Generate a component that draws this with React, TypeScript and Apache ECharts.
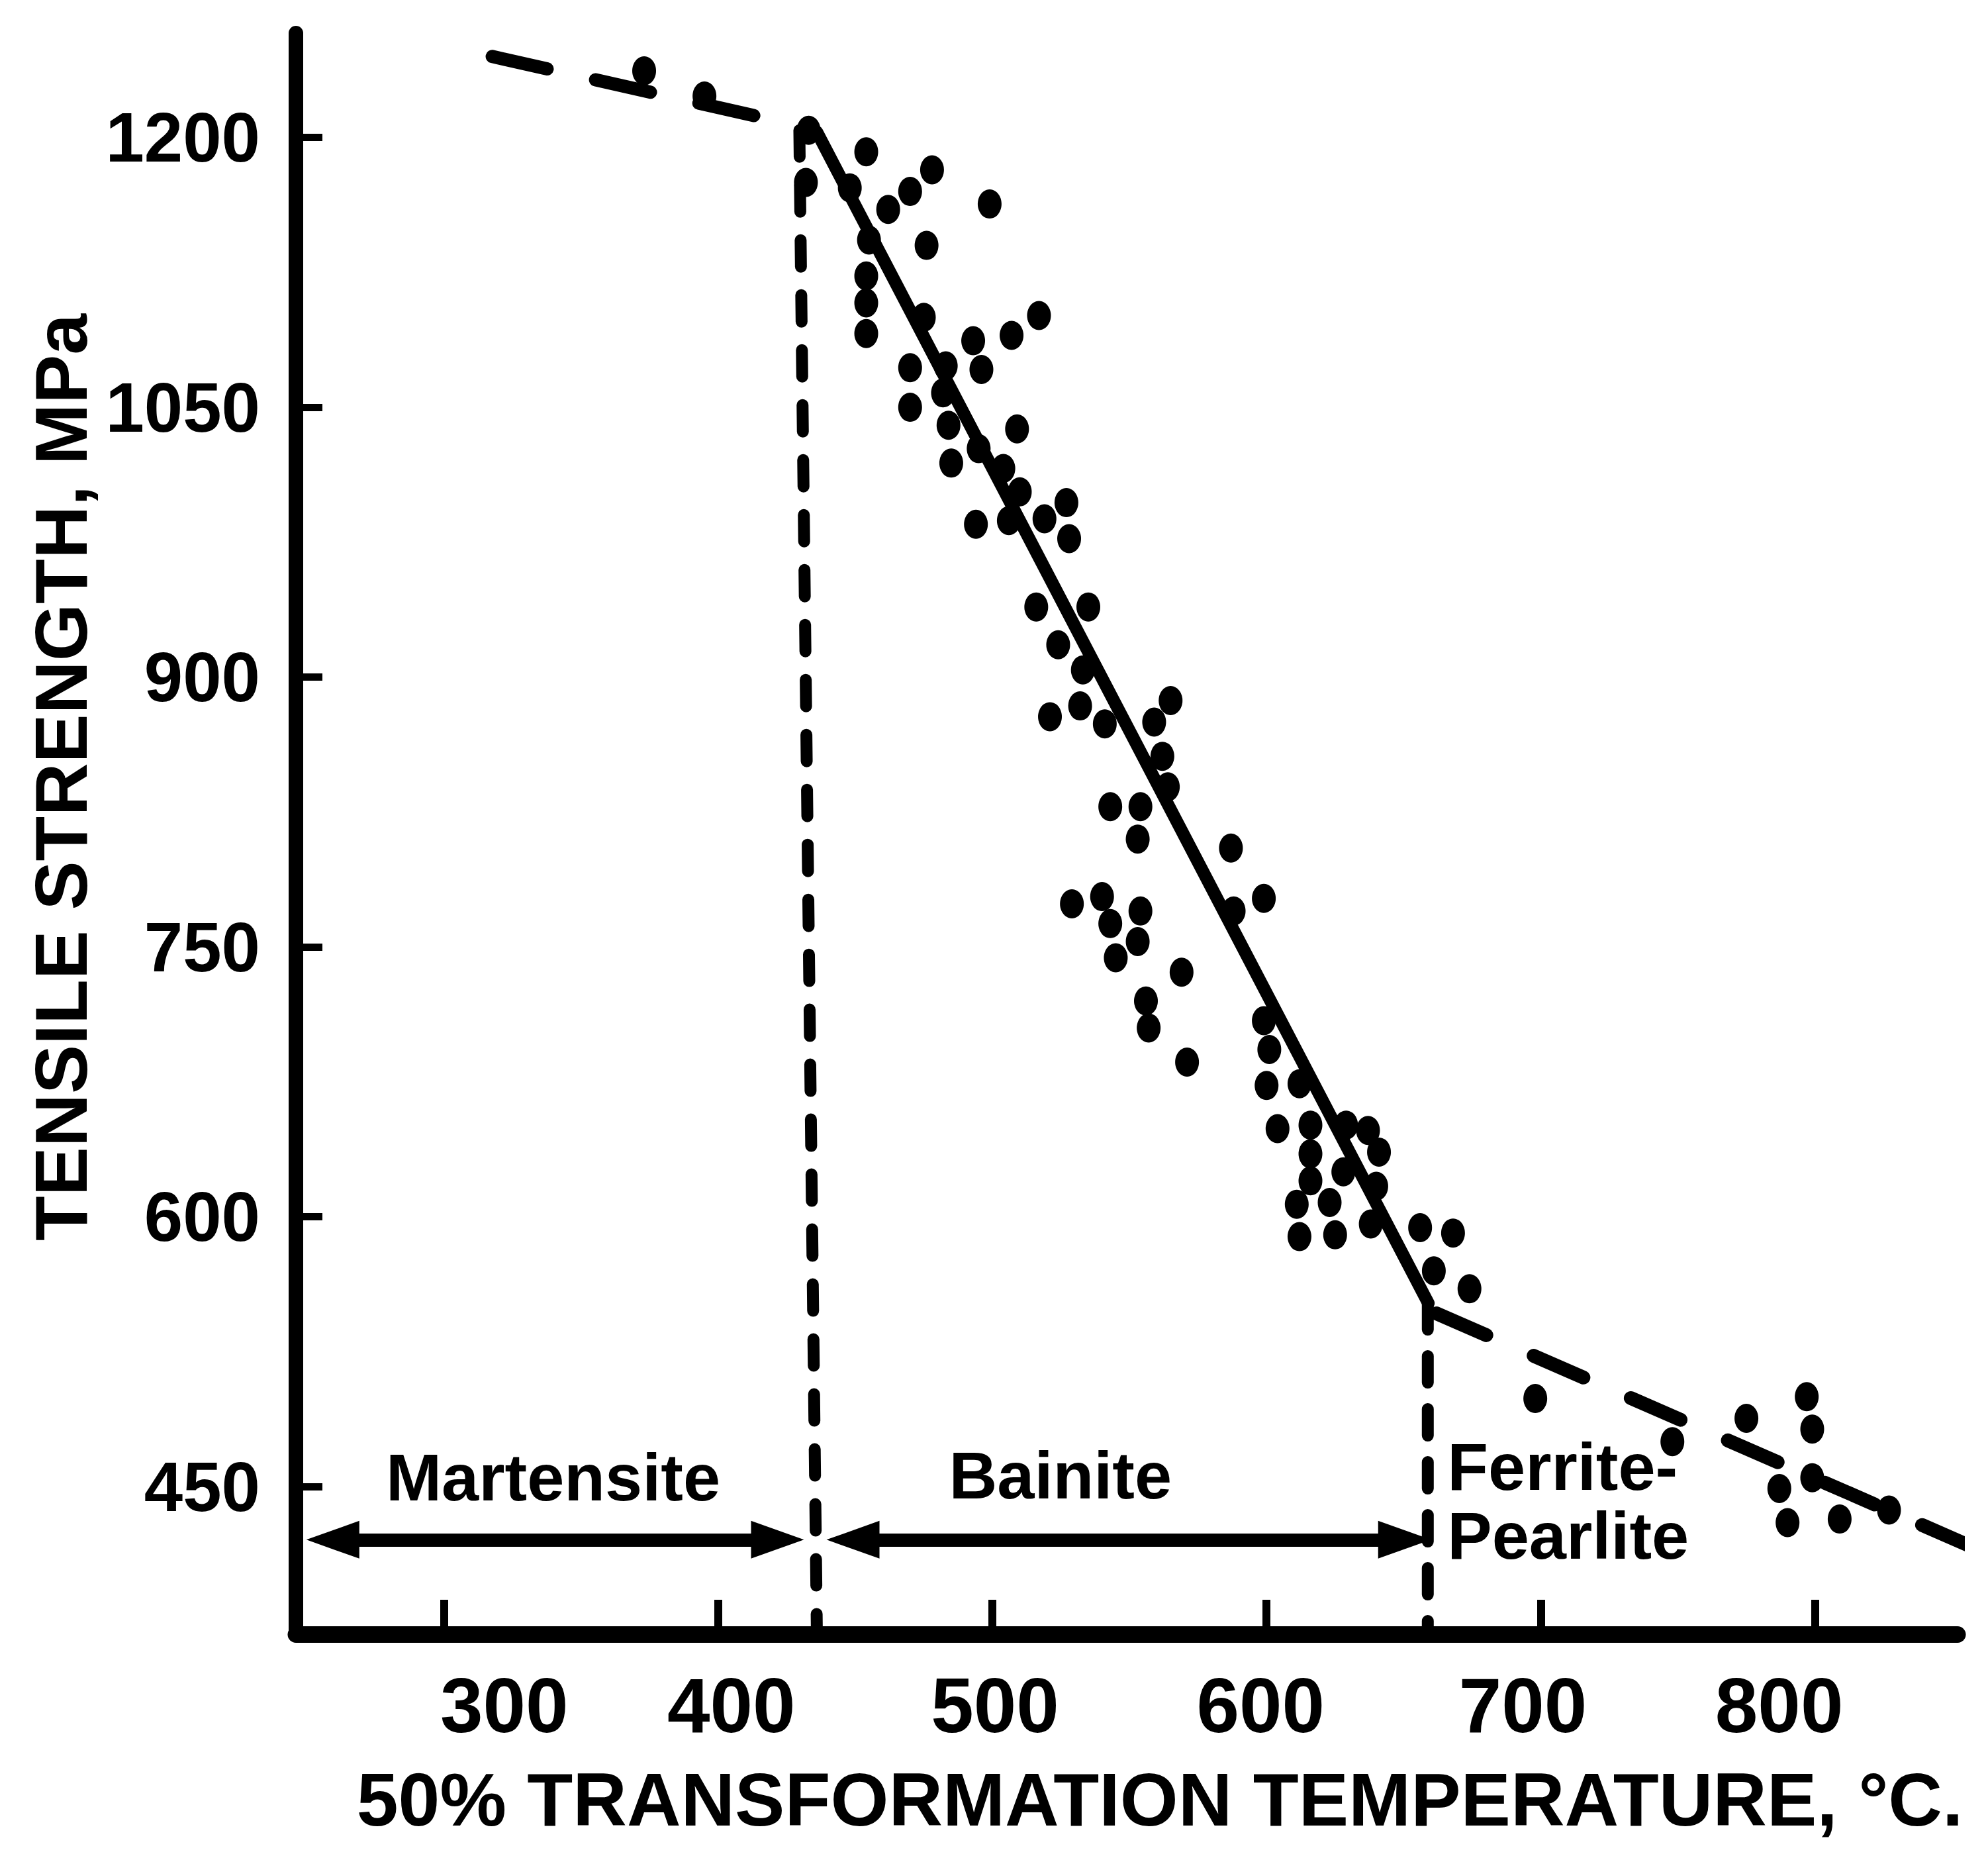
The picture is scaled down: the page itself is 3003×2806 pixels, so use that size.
import { useEffect, useRef } from "react";
import * as echarts from "echarts";

// Measured points: 50% transformation temperature (°C) and tensile strength (MPa)
const temperatures = [
  373, 395, 433, 432, 454, 478, 470, 462, 499, 448,
  476, 455, 454, 454, 454, 475, 507, 517, 493, 470,
  496, 483, 482, 470, 484, 509, 495, 485, 504, 510,
  527, 494, 506, 519, 528, 516, 535, 524, 533, 521,
  532, 541, 559, 565, 562, 564, 543, 554, 553, 587,
  529, 540, 554, 543, 553, 545, 569, 588, 599, 556,
  557, 571, 599, 601, 600, 612, 604, 616, 616, 616,
  611, 623, 612, 625, 629, 637, 641, 628, 640, 638,
  656, 668, 661, 674, 698, 748, 775, 797, 799, 799,
  787, 790, 809, 827,
];
const strengths = [
  1237, 1223, 1204, 1175, 1192, 1182, 1170, 1160, 1163, 1172,
  1140, 1143, 1123, 1108, 1091, 1100, 1090, 1101, 1087, 1072,
  1071, 1073, 1058, 1050, 1040, 1038, 1027, 1019, 1016, 1003,
  997, 985, 987, 988, 977, 939, 939, 918, 904, 878,
  884, 874, 875, 887, 856, 839, 828, 828, 810, 805,
  774, 778, 770, 763, 753, 744, 736, 770, 777, 720,
  705, 686, 709, 693, 673, 674, 649, 651, 635, 620,
  607, 608, 589, 590, 651, 648, 636, 625, 617, 596,
  594, 591, 570, 560, 499, 475, 488, 500, 482, 455,
  449, 430, 432, 437,
];

const xTicks = [300, 400, 500, 600, 700, 800];
const yTicks = [450, 600, 750, 900, 1050, 1200];

// Trend lines (temperature, strength) end points
const upperDashedT = [317.6, 428];
const upperDashedV = [1245, 1207];
const bainiteFitT = [436, 659];
const bainiteFitV = [1203, 552];
const lowerDashedT = [662, 857.5];
const lowerDashedV = [546.3, 416.4];
const martensiteLimitT = [429.6, 436];
const martensiteLimitV = [1204, 368];
const ferriteLimitT = [658.8, 658.8];
const ferriteLimitV = [552, 368];

// Region annotations
const regionNames = ["Martensite", "Bainite", "Ferrite-\nPearlite"];
const regionLabelT = [339.8, 524.8, 665.8];
const regionLabelV = [455.4, 456.5, 441.8];
const arrowStartT = [249.8, 439.5, 660.9];
const arrowEndT = [431.3, 660.0, 863];
const arrowV = [420.5, 420.5, 400.2];

export default function App() {
  const ref = useRef<HTMLDivElement>(null);

  useEffect(() => {
    if (!ref.current) return;
    const chart = echarts.init(ref.current, null, { renderer: "svg" });
    const font = "'Liberation Sans', Arial, Helvetica, sans-serif";
    const pair = (ts: number[], vs: number[]) => ts.map((t, i) => [t, vs[i]]);

    // small horizontal nudges of the x tick labels, as printed
    const labelShift: Record<number, number> = { 300: 91, 400: 20, 500: 4, 600: -9, 700: -27, 800: -54 };
    const rich: Record<string, any> = {};
    xTicks.forEach((v) => {
      const s = labelShift[v] || 0;
      rich["t" + v] = {
        fontSize: 116,
        fontWeight: "bold",
        fontFamily: font,
        color: "#000",
        padding: s >= 0 ? [0, 0, 0, 2 * s] : [0, -2 * s, 0, 0],
      };
    });

    const arrowInset = 9.66; // half of arrow head length, in °C

    const lineSeries = (ts: number[], vs: number[], width: number, type: any, extra: any = {}) => ({
      type: "line",
      data: pair(ts, vs),
      symbol: "none",
      showSymbol: false,
      clip: false,
      silent: true,
      z: 2,
      lineStyle: { color: "#000", width, type, cap: "round", opacity: 1 },
      ...extra,
    });

    chart.setOption({
      animation: false,
      backgroundColor: "#fff",
      grid: { left: 447, right: 46, top: 50, bottom: 338, containLabel: false, outerBoundsMode: "none" },
      xAxis: {
        type: "value",
        min: 246,
        max: 852,
        name: "50% TRANSFORMATION TEMPERATURE, °C.",
        nameLocation: "middle",
        nameGap: 193,
        nameTextStyle: {
          fontSize: 113,
          fontWeight: "bold",
          fontFamily: font,
          color: "#000",
          padding: [0, 0, 0, 100],
        },
        axisLine: { show: true, lineStyle: { color: "#000", width: 25 } },
        axisTick: {
          show: true,
          inside: true,
          length: 52,
          customValues: xTicks,
          lineStyle: { color: "#000", width: 12 },
        },
        axisLabel: {
          show: true,
          customValues: xTicks,
          interval: 0,
          margin: 50,
          fontSize: 116,
          fontWeight: "bold",
          fontFamily: font,
          color: "#000",
          formatter: (v: number) => "{t" + v + "|" + v + "}",
          rich,
        },
        splitLine: { show: false },
      },
      yAxis: {
        type: "value",
        min: 368,
        max: 1258,
        name: "TENSILE STRENGTH, MPa",
        nameLocation: "middle",
        nameRotate: 90,
        nameGap: 274,
        nameTextStyle: {
          fontSize: 111,
          fontWeight: "bold",
          fontFamily: font,
          color: "#000",
          padding: [0, 0, 0, 170],
        },
        axisLine: { show: true, lineStyle: { color: "#000", width: 22 } },
        axisTick: {
          show: true,
          inside: true,
          length: 40,
          customValues: yTicks,
          lineStyle: { color: "#000", width: 11 },
        },
        axisLabel: {
          show: true,
          customValues: yTicks,
          interval: 0,
          margin: 54,
          fontSize: 105,
          fontWeight: "bold",
          fontFamily: font,
          color: "#000",
          formatter: (v: number) => String(v),
        },
        splitLine: { show: false },
      },
      series: [
        lineSeries(upperDashedT, upperDashedV, 20, [85, 75]),
        lineSeries(bainiteFitT, bainiteFitV, 19, "solid"),
        lineSeries(lowerDashedT, lowerDashedV, 21, [82, 78]),
        lineSeries(martensiteLimitT, martensiteLimitV, 18, [40, 43]),
        lineSeries(ferriteLimitT, ferriteLimitV, 18, [40, 40], {
          markLine: {
            silent: true,
            animation: false,
            symbol: ["triangle", "triangle"],
            symbolSize: [57, 80],
            label: { show: false },
            emphasis: { disabled: true },
            itemStyle: { color: "#000", opacity: 1 },
            lineStyle: { color: "#000", width: 20, type: "solid", cap: "butt", opacity: 1 },
            data: arrowStartT.map((t, i) => [
              { coord: [t + arrowInset, arrowV[i]] },
              { coord: [arrowEndT[i] - arrowInset, arrowV[i]] },
            ]),
          },
        }),
        {
          type: "scatter",
          data: pair(temperatures, strengths),
          symbol: "circle",
          symbolSize: [36, 44],
          itemStyle: { color: "#000", opacity: 1 },
          clip: false,
          silent: true,
          z: 3,
        },
        {
          type: "scatter",
          silent: true,
          clip: false,
          symbolSize: 1,
          itemStyle: { color: "rgba(0,0,0,0)", opacity: 1 },
          z: 4,
          label: {
            show: true,
            position: "inside",
            formatter: "{b}",
            fontSize: 101,
            fontWeight: "bold",
            fontFamily: font,
            color: "#000",
            opacity: 1,
            lineHeight: 104,
          },
          data: regionNames.map((n, i) => ({
            name: n,
            value: [regionLabelT[i], regionLabelV[i]],
            label: i === 2 ? { position: "right", distance: 0, align: "left" } : undefined,
          })),
        },
      ],
    });

    return () => chart.dispose();
  }, []);

  return (
    <div
      ref={ref}
      style={{ position: "fixed", left: 0, top: 0, width: 3003, height: 2806, background: "#fff" }}
    />
  );
}
